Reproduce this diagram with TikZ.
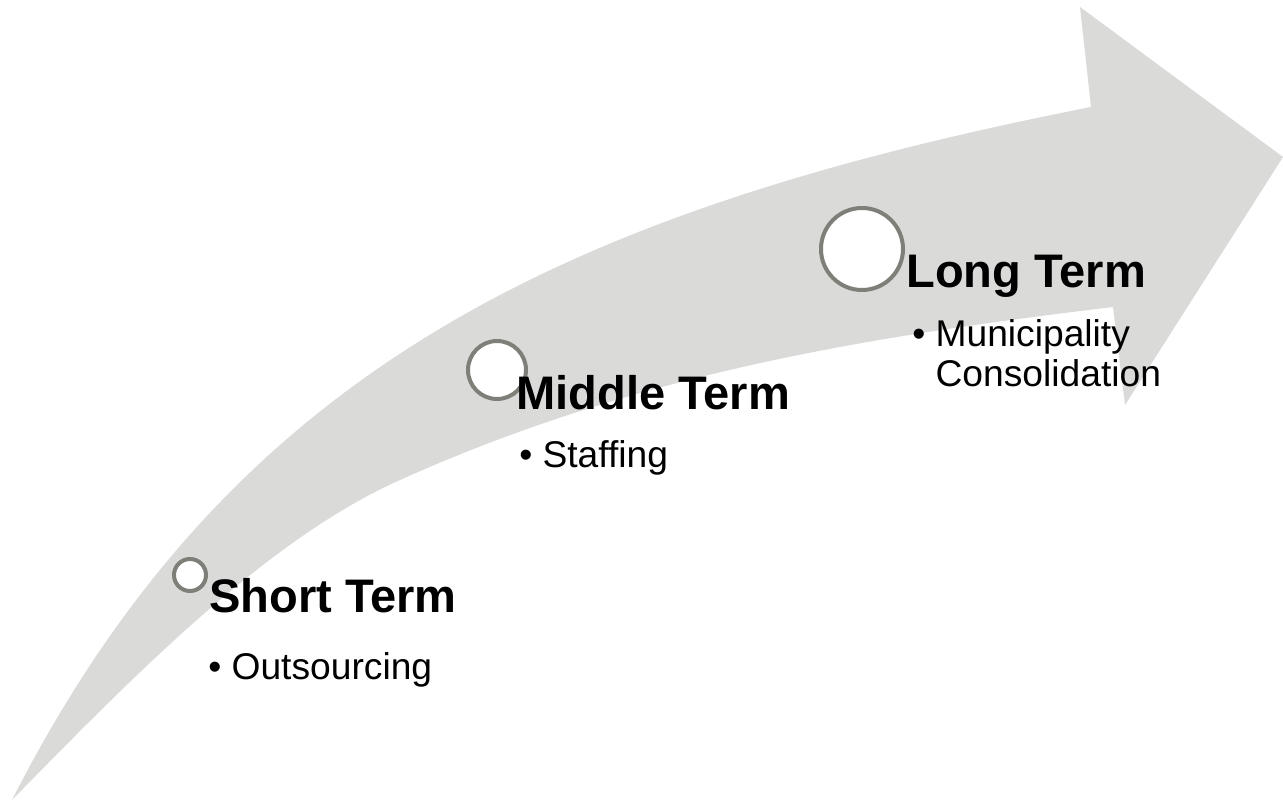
\documentclass[tikz,border=0pt]{standalone}
\usepackage{fontspec}
\setmainfont{Liberation Sans}
\definecolor{arrowgray}{RGB}{218,218,217}
\definecolor{ringgray}{RGB}{127,127,122}
\tikzset{
  ring/.style={circle, draw=ringgray, line width=3pt, fill=white, inner sep=0pt},
  termtitle/.style={anchor=base west, inner sep=0pt, font=\fontsize{35.3}{40}\selectfont\bfseries},
  termitem/.style={anchor=base west, inner sep=0pt, font=\fontsize{27.9}{30}\selectfont},
}
\begin{document}
\begin{tikzpicture}[x=0.75pt, y=-0.75pt]
\useasboundingbox (0,0) rectangle (1283,805);
\fill[white] (0,0) rectangle (1283,805);
% curved arrow
\fill[arrowgray]
  (12,800) .. controls (231,370) and (563,211) .. (1091,107)
  -- (1080,7) -- (1283,157) -- (1125,405) -- (1113,307)
  .. controls (873,336) and (640,372) .. (400,480)
  .. controls (270,538) and (142,667) .. (12,800)
  -- cycle;
% rings
\node[ring, minimum size=24pt] (c1) at (190,575) {};
\node[ring, minimum size=43.5pt] (c2) at (497,370) {};
\node[ring, minimum size=61.5pt] (c3) at (862,249) {};
% texts
\node[termtitle] (t1) at (209,613) {Short Term};
\node[termitem] (i1) at (208,680) {\textbullet\ Outsourcing};
\node[termtitle] (t2) at (516,410) {Middle Term};
\node[termitem] (i2) at (519,468) {\textbullet\ Staffing};
\node[termtitle] (t3) at (906,288) {Long Term};
\node[termitem] (i3) at (912,347) {\textbullet\ \begin{tabular}[t]{@{}l@{}}Municipality\\Consolidation\end{tabular}};
\end{tikzpicture}
\end{document}
